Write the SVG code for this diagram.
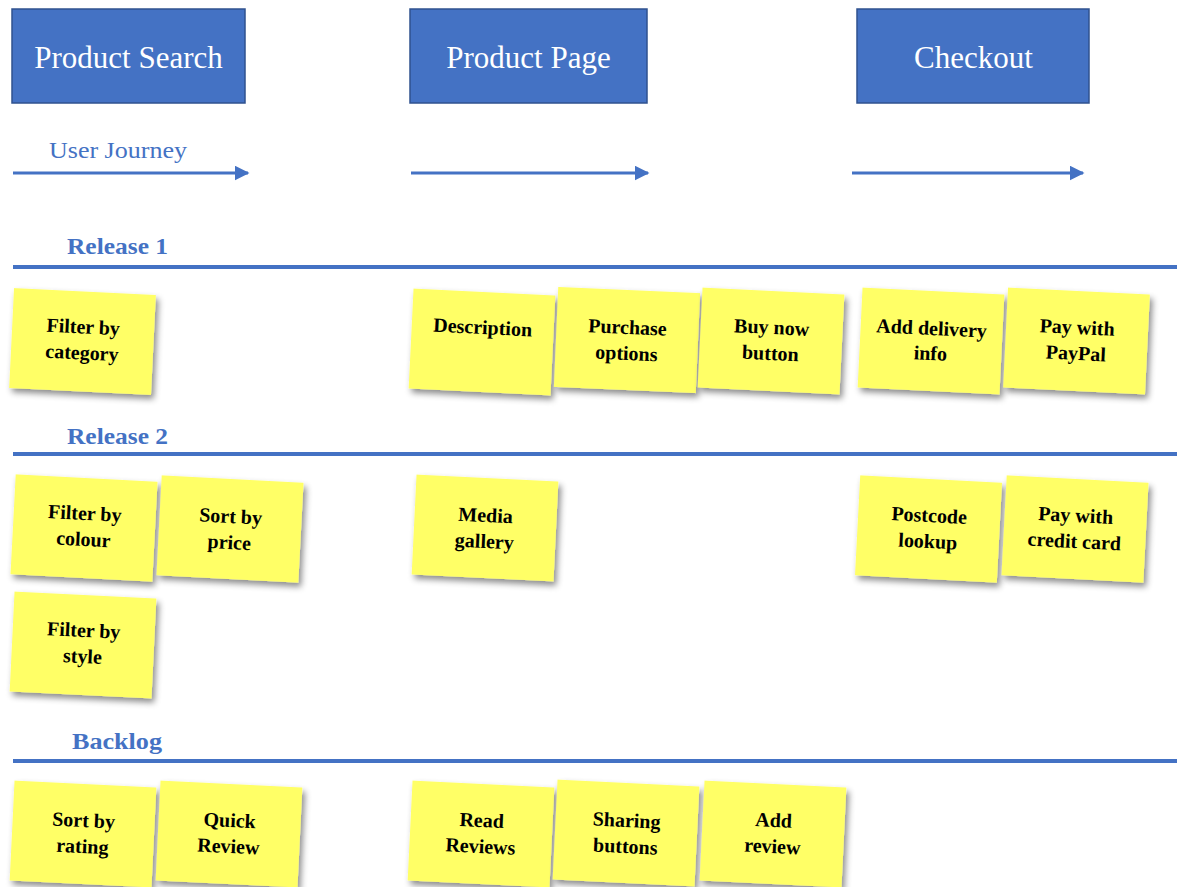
<svg xmlns="http://www.w3.org/2000/svg" width="1177" height="887" viewBox="0 0 1177 887">
  <style>
    .stage rect { fill: #4472C4; stroke: #2F528F; stroke-width: 1.5; }
    .stage text { fill: #FFFFFF; font-family: "Liberation Serif", "Times New Roman", serif; font-size: 31px; text-anchor: middle; }
    .journey { fill: #4472C4; font-family: "Liberation Serif", "Times New Roman", serif; font-size: 24px; }
    .lane { fill: #4472C4; font-family: "Liberation Serif", "Times New Roman", serif; font-size: 24px; font-weight: bold; }
    .rule { stroke: #4472C4; stroke-width: 4; }
    .flow { stroke: #4472C4; stroke-width: 3; fill: none; }
    .note rect { fill: #FFFF66; filter: url(#shadow); }
    .note text { fill: #000000; font-family: "Liberation Serif", "Times New Roman", serif; font-size: 20px; font-weight: bold; text-anchor: middle; }
  </style>
  <defs>
    <filter id="shadow" x="-20%" y="-20%" width="150%" height="150%">
      <feDropShadow dx="3" dy="4" stdDeviation="3" flood-color="#000000" flood-opacity="0.45"/>
    </filter>
    <marker id="arrow" viewBox="0 0 10 10" refX="9" refY="5" markerWidth="5" markerHeight="5" orient="auto" markerUnits="strokeWidth">
      <path d="M0,0 L10,5 L0,10 Z" fill="#4472C4"/>
    </marker>
  </defs>

  <rect width="1177" height="887" fill="#FFFFFF"/>

  <!-- Journey stages -->
  <g id="stage-search" class="stage">
    <rect x="12" y="9" width="233" height="94"/>
    <text x="128.5" y="68">Product Search</text>
  </g>
  <g id="stage-page" class="stage">
    <rect x="410" y="9" width="237" height="94"/>
    <text x="528.5" y="68">Product Page</text>
  </g>
  <g id="stage-checkout" class="stage">
    <rect x="857" y="9" width="232" height="94"/>
    <text x="973.5" y="68">Checkout</text>
  </g>

  <text class="journey" x="49" y="158" textLength="138" lengthAdjust="spacingAndGlyphs">User Journey</text>

  <!-- Journey direction arrows -->
  <g id="connectors">
    <line class="flow" x1="13" y1="173" x2="248" y2="173" marker-end="url(#arrow)"/>
    <line class="flow" x1="411" y1="173" x2="648" y2="173" marker-end="url(#arrow)"/>
    <line class="flow" x1="852" y1="173" x2="1083" y2="173" marker-end="url(#arrow)"/>
  </g>

  <!-- Release lanes -->
  <text class="lane" x="67" y="254" textLength="101" lengthAdjust="spacingAndGlyphs">Release 1</text>
  <line class="rule" x1="13" y1="267" x2="1177" y2="267"/>
  <text class="lane" x="67" y="444" textLength="101" lengthAdjust="spacingAndGlyphs">Release 2</text>
  <line class="rule" x1="13" y1="454" x2="1177" y2="454"/>
  <text class="lane" x="72" y="749" textLength="90" lengthAdjust="spacingAndGlyphs">Backlog</text>
  <line class="rule" x1="13" y1="761" x2="1177" y2="761"/>

  <!-- Release 1 stories -->
  <g id="note-filter-category" class="note" transform="translate(82.5,341.5) rotate(2.8)">
    <rect x="-71" y="-50" width="142" height="100"/>
    <text y="-8">Filter by</text><text y="18">category</text>
  </g>
  <g id="note-description" class="note" transform="translate(482,342) rotate(2.8)">
    <rect x="-71" y="-50" width="142" height="100"/>
    <text y="-8">Description</text>
  </g>
  <g id="note-purchase-options" class="note" transform="translate(627,340) rotate(2.5)">
    <rect x="-71" y="-50" width="142" height="100"/>
    <text y="-6">Purchase</text><text y="20">options</text>
  </g>
  <g id="note-buy-now" class="note" transform="translate(771,341) rotate(2.8)">
    <rect x="-71" y="-50" width="142" height="100"/>
    <text y="-7">Buy now</text><text y="19">button</text>
  </g>
  <g id="note-add-delivery" class="note" transform="translate(931,341) rotate(2.8)">
    <rect x="-71" y="-50" width="142" height="100"/>
    <text y="-6">Add delivery</text><text y="19">info</text>
  </g>
  <g id="note-paypal" class="note" transform="translate(1076.5,341) rotate(2.8)">
    <rect x="-71" y="-50" width="142" height="100"/>
    <text y="-7">Pay with</text><text y="19">PayPal</text>
  </g>

  <!-- Release 2 stories -->
  <g id="note-filter-colour" class="note" transform="translate(84,528) rotate(3)">
    <rect x="-71" y="-50" width="142" height="100"/>
    <text y="-8">Filter by</text><text y="18">colour</text>
  </g>
  <g id="note-sort-price" class="note" transform="translate(230,529) rotate(3)">
    <rect x="-71" y="-50" width="142" height="100"/>
    <text y="-6">Sort by</text><text y="20">price</text>
  </g>
  <g id="note-media-gallery" class="note" transform="translate(485,528) rotate(2.8)">
    <rect x="-71" y="-50" width="142" height="100"/>
    <text y="-6">Media</text><text y="20">gallery</text>
  </g>
  <g id="note-postcode" class="note" transform="translate(928.5,529) rotate(3)">
    <rect x="-71" y="-50" width="142" height="100"/>
    <text y="-7">Postcode</text><text y="19">lookup</text>
  </g>
  <g id="note-credit-card" class="note" transform="translate(1075,529) rotate(3)">
    <rect x="-71" y="-50" width="142" height="100"/>
    <text y="-7">Pay with</text><text y="19">credit card</text>
  </g>
  <g id="note-filter-style" class="note" transform="translate(83,645) rotate(2.8)">
    <rect x="-71" y="-50" width="142" height="100"/>
    <text y="-8">Filter by</text><text y="18">style</text>
  </g>

  <!-- Backlog stories -->
  <g id="note-sort-rating" class="note" transform="translate(83,834) rotate(2.8)">
    <rect x="-71" y="-50" width="142" height="100"/>
    <text y="-7">Sort by</text><text y="19">rating</text>
  </g>
  <g id="note-quick-review" class="note" transform="translate(229,834) rotate(2.8)">
    <rect x="-71" y="-50" width="142" height="100"/>
    <text y="-7">Quick</text><text y="19">Review</text>
  </g>
  <g id="note-read-reviews" class="note" transform="translate(481,834) rotate(2.8)">
    <rect x="-71" y="-50" width="142" height="100"/>
    <text y="-7">Read</text><text y="19">Reviews</text>
  </g>
  <g id="note-sharing-buttons" class="note" transform="translate(626,833) rotate(2.8)">
    <rect x="-71" y="-50" width="142" height="100"/>
    <text y="-6">Sharing</text><text y="20">buttons</text>
  </g>
  <g id="note-add-review" class="note" transform="translate(773,834) rotate(2.8)">
    <rect x="-71" y="-50" width="142" height="100"/>
    <text y="-7">Add</text><text y="19">review</text>
  </g>
</svg>
